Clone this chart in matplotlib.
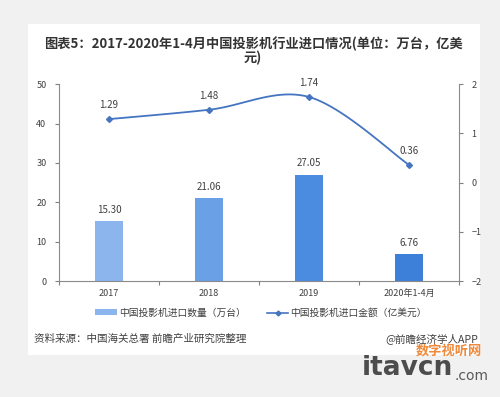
import numpy as np
import matplotlib.pyplot as plt
from matplotlib.patches import Rectangle, Patch
from matplotlib.lines import Line2D

plt.rcParams['font.family'] = ['Noto Sans CJK SC', 'DejaVu Sans']

# data
categories = ['2017', '2018', '2019', '2020年1-4月']
quantity = [15.30, 21.06, 27.05, 6.76]      # 万台
amount = [1.29, 1.48, 1.74, 0.36]           # 亿美元
bar_colors = ['#8cb5ee', '#6aa0e6', '#4b8be0', '#3d80da']
line_color = '#4575c0'

title = '图表5：2017-2020年1-4月中国投影机行业进口情况(单位：万台，亿美\n元)'
legend_bar = '中国投影机进口数量（万台）'
legend_line = '中国投影机进口金额（亿美元）'
source = '资料来源：中国海关总署 前瞻产业研究院整理'
credit = '@前瞻经济学人APP'


def smooth(xs, ys, n=30):
    # excel-like smoothed line: cubic bezier with catmull-rom control points
    xs = np.asarray(xs, float)
    ys = np.asarray(ys, float)
    px = np.concatenate([[xs[0]], xs, [xs[-1]]])
    py = np.concatenate([[ys[0]], ys, [ys[-1]]])
    ox, oy = [], []
    t = np.linspace(0, 1, n)
    for i in range(1, len(px) - 2):
        p0 = np.array([px[i], py[i]])
        p3 = np.array([px[i + 1], py[i + 1]])
        c1 = p0 + (np.array([px[i + 1], py[i + 1]]) - np.array([px[i - 1], py[i - 1]])) / 6
        c2 = p3 - (np.array([px[i + 2], py[i + 2]]) - np.array([px[i], py[i]])) / 6
        b = ((1 - t) ** 3)[:, None] * p0 + (3 * (1 - t) ** 2 * t)[:, None] * c1 \
            + (3 * (1 - t) * t ** 2)[:, None] * c2 + (t ** 3)[:, None] * p3
        ox.extend(b[:, 0])
        oy.extend(b[:, 1])
    return ox, oy


fig = plt.figure(figsize=(5, 3.97), dpi=100, facecolor='#f1f1f1')
fig.patches.append(Rectangle((0.056, 0.106), 0.904, 0.834, transform=fig.transFigure,
                             facecolor='white', edgecolor='none', zorder=-5))

ax = fig.add_axes([0.118, 0.292, 0.8, 0.496])
ax.set_facecolor('none')
x = np.arange(len(categories))
ax.bar(x, quantity, width=0.28, color=bar_colors, zorder=2)
for xi, v in zip(x, quantity):
    ax.text(xi, v + 1.6, f'{v:.2f}', ha='center', va='bottom', fontsize=7, color='#404040')

ax.set_xlim(-0.5, 3.5)
ax.set_ylim(0, 50)
ax.set_yticks(range(0, 51, 10))
ax.set_xticks(np.arange(-0.5, 4, 1))
ax.set_xticklabels([])
ax.set_xticks(x, minor=True)
ax.set_xticklabels(categories, minor=True)
ax.tick_params(axis='x', which='minor', length=0, pad=6, labelsize=6.5, colors='#404040')
ax.tick_params(axis='x', which='major', length=3, color='#808080')
ax.tick_params(axis='y', length=3, color='#808080', labelsize=6.5, labelcolor='#404040', pad=6)
for s in ['top', 'right']:
    ax.spines[s].set_visible(False)
for s in ['left', 'bottom']:
    ax.spines[s].set_color('#8a8a8a')
    ax.spines[s].set_linewidth(0.8)

ax2 = ax.twinx()
sx, sy = smooth(x, amount)
ax2.plot(sx, sy, color=line_color, lw=1.3, zorder=3)
ax2.plot(x, amount, ls='none', marker='D', ms=3, color=line_color, zorder=4)
for xi, v in zip(x, amount):
    ax2.text(xi, v + 0.18, f'{v:.2f}', ha='center', va='bottom', fontsize=7, color='#404040')
ax2.set_ylim(-2, 2)
ax2.set_yticks(range(-2, 3))
ax2.tick_params(axis='y', length=3, color='#808080', labelsize=6.5, labelcolor='#404040', pad=6)
for s in ['top', 'left', 'bottom']:
    ax2.spines[s].set_visible(False)
ax2.spines['right'].set_color('#8a8a8a')
ax2.spines['right'].set_linewidth(0.8)

fig.text(0.506, 0.872, title, ha='center', va='center', fontsize=9.5, fontweight='bold',
         color='#333333', linespacing=1.0)

handles = [Patch(facecolor='#8cb5ee'),
           Line2D([0], [0], color=line_color, lw=1.2, marker='D', ms=2.5)]
fig.legend(handles, [legend_bar, legend_line], loc='center', bbox_to_anchor=(0.522, 0.212),
           ncol=2, frameon=False, fontsize=7, handlelength=2.2, handleheight=0.6,
           columnspacing=2.2, handletextpad=0.2, labelcolor='#404040')

fig.text(0.068, 0.146, source, ha='left', va='center', fontsize=7.6, color='#404040')
fig.text(0.956, 0.146, credit, ha='right', va='center', fontsize=7.6, color='#404040')

# site watermark at the bottom right
fig.text(0.965, 0.118, '数字视听网', ha='right', va='center', fontsize=9.5, fontweight='bold',
         style='italic', color='#f0893a')
fig.text(0.724, 0.072, 'itavcn', ha='left', va='center', fontsize=19, fontweight='bold',
         color='#4d4d4d', family='DejaVu Sans')
fig.text(0.908, 0.052, '.com', ha='left', va='center', fontsize=10,
         color='#5a5a5a', family='DejaVu Sans')

fig.savefig('out.png', dpi=100, facecolor=fig.get_facecolor())
